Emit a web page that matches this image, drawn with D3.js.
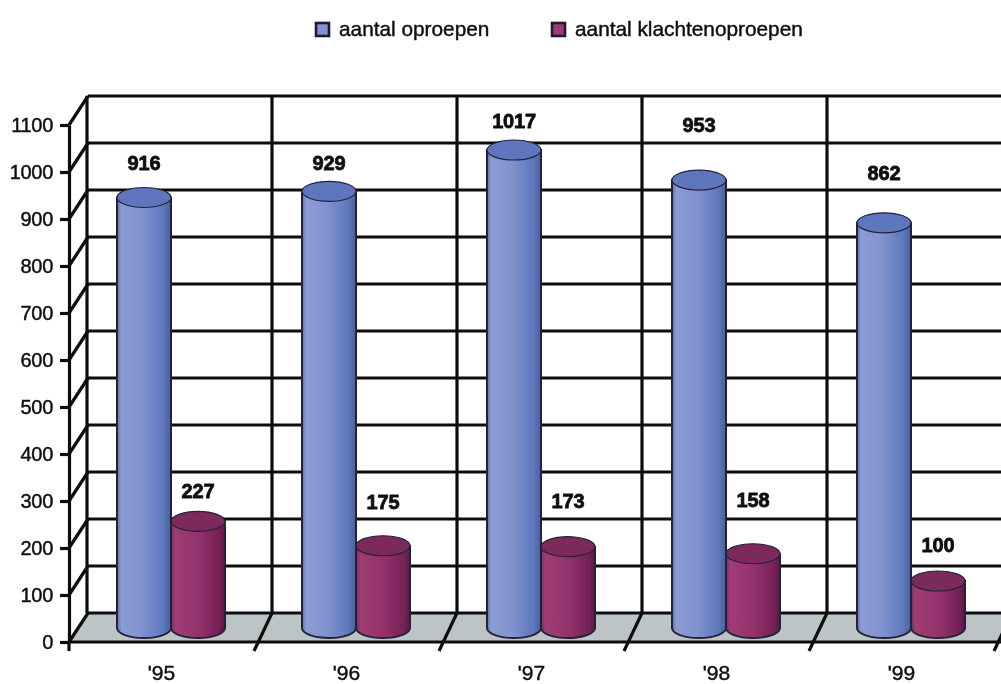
<!DOCTYPE html>
<html>
<head>
<meta charset="utf-8">
<script src="https://cdn.jsdelivr.net/npm/d3@7"></script>
<style>
  html, body { margin: 0; background: #fff; }
  text { font-family: "Liberation Sans", Arial, sans-serif; fill: #111; stroke: #111; stroke-width: 0.45px; }
  text.value { stroke-width: 0.8px; }
</style>
</head>
<body>
<div id="chart"></div>
<script>
const years = ["'95", "'96", "'97", "'98", "'99"];
const oproepen = [916, 929, 1017, 953, 862];
const klachten = [227, 175, 173, 158, 100];
const seriesNames = ['aantal oproepen', 'aantal klachtenoproepen'];
const yTicks = [0, 100, 200, 300, 400, 500, 600, 700, 800, 900, 1000, 1100];

// the source labels do not sit at one fixed distance above the cylinders
const liftOproepen = [34, 28, 29, 55, 50];
const liftKlachten = [30, 44, 46, 54, 36];

const W = 1001, H = 684;
const DEPTH = { x: 19, y: -29 };
const RX = 27, RY = 10;
const INK = '#0d0d0d';
const LINE = 3.2;

const svg = d3.select('#chart').append('svg')
    .attr('width', W)
    .attr('height', H)
    .style('display', 'block');

const defs = svg.append('defs');
defs.append('filter').attr('id', 'soft')
    .attr('x', 0).attr('y', 0).attr('width', 1).attr('height', 1)
    .append('feGaussianBlur').attr('stdDeviation', 0.75);

function addGradient(id, stops) {
    const g = defs.append('linearGradient').attr('id', id);
    stops.forEach(([o, c]) => g.append('stop').attr('offset', o).attr('stop-color', c));
}
addGradient('blueBody', [[0, '#5f6fa8'], [0.08, '#8b9bd3'], [0.45, '#8293cf'], [0.85, '#5f79bd'], [1, '#4b5f9c']]);
addGradient('maroonBody', [[0, '#7d2c5e'], [0.08, '#a03c74'], [0.5, '#94336c'], [0.85, '#7a2358'], [1, '#5f1c46']]);

const root = svg.append('g').attr('filter', 'url(#soft)');
root.append('rect').attr('width', W).attr('height', H).attr('fill', '#fff');

// Scales
const y = d3.scaleLinear().domain([0, 1100]).range([642, 125]);
const x = d3.scaleBand().domain(years).range([69, 994]);
const step = x.step();
const y0 = y(0);

// Floor
root.append('path')
    .attr('d', `M${69},${y0}L${69 + DEPTH.x},${y0 + DEPTH.y}L${W},${y0 + DEPTH.y}L${W},${y0}Z`)
    .attr('fill', '#bcc4c6');

// Back wall grid
const grid = root.append('g')
    .attr('stroke', INK)
    .attr('stroke-width', LINE)
    .attr('fill', 'none');

grid.selectAll('.h').data(yTicks).join('line')
    .attr('x1', 69 + DEPTH.x).attr('x2', W)
    .attr('y1', d => y(d) + DEPTH.y).attr('y2', d => y(d) + DEPTH.y);

grid.selectAll('.side').data(yTicks).join('line')
    .attr('x1', 69).attr('y1', d => y(d))
    .attr('x2', 69 + DEPTH.x).attr('y2', d => y(d) + DEPTH.y);

const edges = years.map(d => x(d)).concat(x(years[4]) + step);

grid.selectAll('.v').data(edges).join('line')
    .attr('x1', d => d + DEPTH.x - 1).attr('x2', d => d + DEPTH.x - 1)
    .attr('y1', y(1100) + DEPTH.y).attr('y2', y0 + DEPTH.y);

// slanted floor dividers, running a little past the front edge
grid.selectAll('.floor').data(edges.slice(1)).join('line')
    .attr('x1', d => d).attr('y1', y0 + 9)
    .attr('x2', d => d + DEPTH.x - 1).attr('y2', y0 + DEPTH.y);

// Axes
const axisLeft = root.append('g')
    .attr('transform', 'translate(69,0)')
    .call(d3.axisLeft(y).tickValues(yTicks).tickFormat(d3.format('d')).tickSize(9).tickPadding(7).tickSizeOuter(0));
axisLeft.select('.domain').attr('stroke', INK).attr('stroke-width', LINE);
axisLeft.selectAll('.tick line').attr('stroke', INK).attr('stroke-width', LINE);
axisLeft.selectAll('text')
    .attr('font-size', 20)
    .attr('letter-spacing', -0.3)
    .style('font-family', '"Liberation Sans", Arial, sans-serif');

root.append('line')
    .attr('x1', 69).attr('x2', 69)
    .attr('y1', y0).attr('y2', y0 + 9)
    .attr('stroke', INK).attr('stroke-width', LINE);

root.append('line')
    .attr('x1', 69).attr('x2', W)
    .attr('y1', y0).attr('y2', y0)
    .attr('stroke', INK).attr('stroke-width', LINE);

root.selectAll('.year').data(years).join('text')
    .attr('x', d => x(d) + step / 2)
    .attr('y', 680)
    .attr('text-anchor', 'middle')
    .attr('font-size', 21)
    .text(d => d);

// Cylinders
function drawCylinders(values, lifts, offset, bodyFill, topFill) {
    const rows = years.map((year, i) => ({
        year,
        value: values[i],
        lift: lifts[i],
        cx: x(year) + offset,
        top: y(values[i]) - 14,
        bottom: y0 - 14
    }));

    const g = root.append('g');

    g.selectAll('path').data(rows).join('path')
        .attr('d', d => `M${d.cx - RX},${d.top}V${d.bottom}A${RX},${RY} 0 0 0 ${d.cx + RX},${d.bottom}V${d.top}Z`)
        .attr('fill', bodyFill)
        .attr('stroke', '#23243a')
        .attr('stroke-width', 2);

    g.selectAll('ellipse').data(rows).join('ellipse')
        .attr('cx', d => d.cx)
        .attr('cy', d => d.top)
        .attr('rx', RX)
        .attr('ry', RY)
        .attr('fill', topFill)
        .attr('stroke', '#23243a')
        .attr('stroke-width', 1.2);

    g.selectAll('text').data(rows).join('text')
        .attr('class', 'value')
        .attr('x', d => d.cx)
        .attr('y', d => d.top - d.lift + 7)
        .attr('text-anchor', 'middle')
        .attr('font-size', 20)
        .attr('font-weight', 'bold')
        .attr('letter-spacing', -0.2)
        .text(d => d.value);
}

drawCylinders(klachten, liftKlachten, 129, 'url(#maroonBody)', '#7b2a5c');
drawCylinders(oproepen, liftOproepen, 75, 'url(#blueBody)', '#5f74bd');

// Legend
const legendX = [316, 552];
const legendFill = ['#8293cf', '#9c3a72'];
const legend = root.selectAll('.legend').data(seriesNames).join('g')
    .attr('transform', (d, i) => `translate(${legendX[i]},23)`);

legend.append('rect')
    .attr('width', 13).attr('height', 13)
    .attr('fill', (d, i) => legendFill[i])
    .attr('stroke', '#1c1d30')
    .attr('stroke-width', 2.6);

legend.append('text')
    .attr('x', 23)
    .attr('y', 13)
    .attr('font-size', 20.8)
    .text(d => d);
</script>
</body>
</html>
